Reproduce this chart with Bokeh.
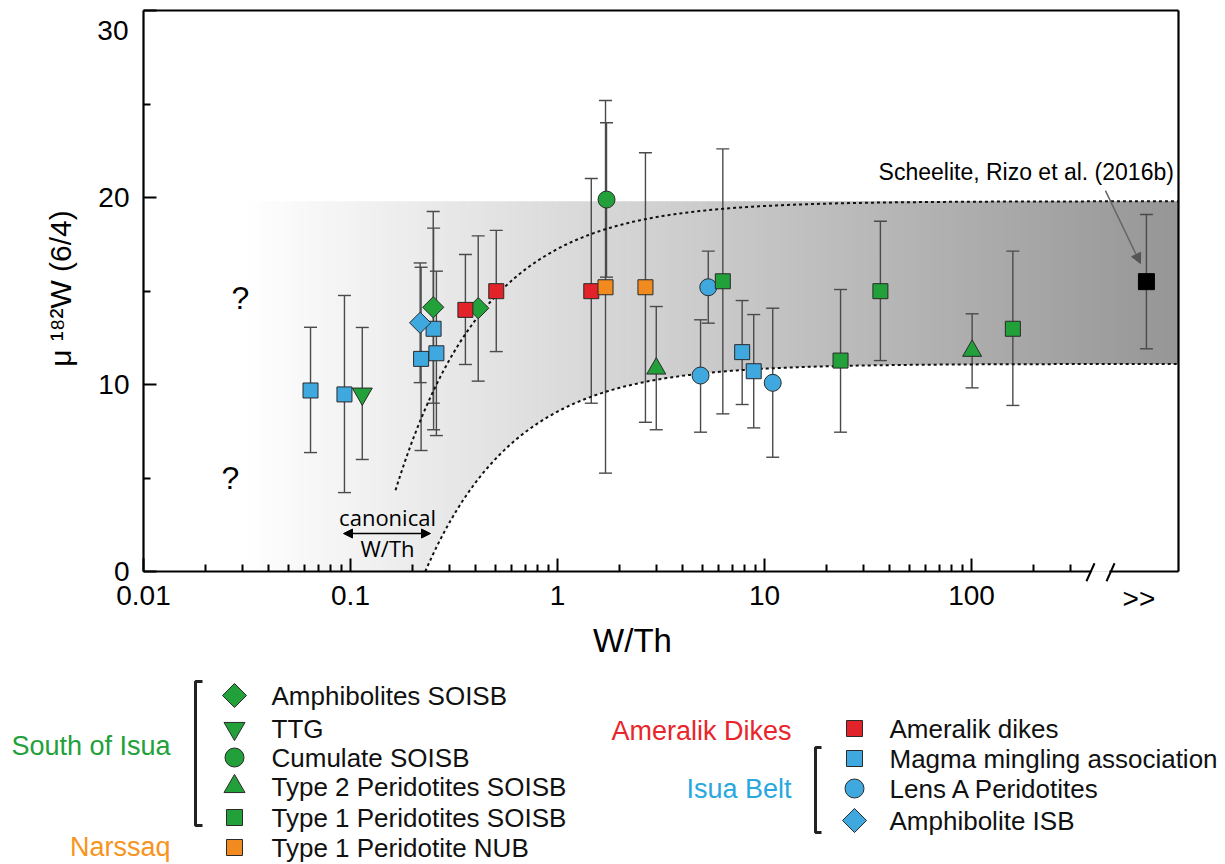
import numpy as np
from bokeh.plotting import figure
from bokeh.models import (ColumnDataSource, Whisker, TeeHead, Range1d, FixedTicker,
                          Arrow, NormalHead, LinearScale)
from bokeh.core.properties import value
from bokeh.embed import file_html
from bokeh.resources import INLINE

FONT = "Liberation Sans"

# ---------------- data ----------------
# South of Isua
amph_soisb_x = [0.251, 0.414]
amph_soisb_y = [14.13, 14.08]
amph_soisb_lo = [9.0, 10.18]
amph_soisb_hi = [19.25, 17.95]

ttg_x = [0.114]
ttg_y = [9.5]
ttg_lo = [5.99]
ttg_hi = [13.05]

cumulate_x = [1.725]
cumulate_y = [19.89]
cumulate_lo = [15.74]
cumulate_hi = [24.0]

type2_soisb_x = [3.0, 100.7]
type2_soisb_y = [10.85, 11.8]
type2_soisb_lo = [7.58, 9.82]
type2_soisb_hi = [14.17, 13.78]

type1_soisb_x = [6.29, 23.3, 36.3, 158.4]
type1_soisb_y = [15.52, 11.28, 14.99, 12.98]
type1_soisb_lo = [8.43, 7.45, 11.28, 8.88]
type1_soisb_hi = [22.6, 15.08, 18.73, 17.13]

# Narssaq
type1_nub_x = [1.706, 2.66]
type1_nub_y = [15.2, 15.2]
type1_nub_lo = [5.26, 7.98]
type1_nub_hi = [25.19, 22.39]

# Ameralik dikes
ameralik_x = [0.359, 0.506, 1.456]
ameralik_y = [13.99, 14.99, 14.99]
ameralik_lo = [11.07, 11.76, 9.0]
ameralik_hi = [16.95, 18.24, 21.02]

# Isua belt
magma_x = [0.0641, 0.0935, 0.2193, 0.252, 0.260, 7.8, 8.87]
magma_y = [9.68, 9.47, 11.37, 12.98, 11.67, 11.73, 10.71]
magma_lo = [6.36, 4.22, 6.47, 7.58, 7.27, 8.93, 7.68]
magma_hi = [13.06, 14.76, 16.27, 18.36, 16.06, 14.49, 13.74]

lensa_x = [4.91, 5.35, 10.96]
lensa_y = [10.48, 15.2, 10.09]
lensa_lo = [7.45, 13.28, 6.11]
lensa_hi = [13.46, 17.13, 14.08]

amph_isb_x = [0.217]
amph_isb_y = [13.3]
amph_isb_lo = [10.1]
amph_isb_hi = [16.5]

# Scheelite (beyond the axis break, plotted at ">>")
scheelite_x = [700.0]
scheelite_y = [15.5]
scheelite_lo = [11.91]
scheelite_hi = [19.09]

# axes
x_major_ticks = [0.01, 0.1, 1, 10, 100]
x_major_labels = ["0.01", "0.1", "1", "10", "100"]
x_minor_ticks = ([m * 0.01 for m in range(2, 10)] + [m * 0.1 for m in range(2, 10)] +
                 [float(m) for m in range(2, 10)] + [m * 10.0 for m in range(2, 10)] +
                 [200.0, 300.0])
y_major_ticks = [0, 10, 20, 30]
y_minor_ticks = [5, 15, 25]
XMIN, XMAX, YMIN, YMAX = 0.01, 1000.0, 0.0, 30.0
BREAK_LO, BREAK_HI = 380.0, 464.0
FAR_X = 644.0  # position of the ">>" label

# model (mixing) curves: y = A - B / x
CURVE_B = 2.55
UP_A = 19.8
LOW_A = 11.1
UP_START = 0.165
SHADE_TOP = 19.8
SHADE_START_LOG = -1.5

GREEN = "#22a03a"
BLUE = "#3fa8de"
RED = "#e2232a"
ORANGE = "#f18a1f"
EDGE = "#2a2a2a"

# ---------------- page geometry ----------------
W, H = 1225, 864
X_ORIGIN_PX, PX_PER_DECADE = 143.0, 207.0   # x = 0.01 at 143 px
Y_ORIGIN_PX, PX_PER_UNIT = 571.0, 18.7      # y = 0 at 571 px
xl0 = np.log10(XMIN) - X_ORIGIN_PX / PX_PER_DECADE
xl1 = np.log10(XMIN) + (W - X_ORIGIN_PX) / PX_PER_DECADE
y0 = -(H - Y_ORIGIN_PX) / PX_PER_UNIT
y1 = Y_ORIGIN_PX / PX_PER_UNIT

p = figure(width=W, height=H, x_axis_type="log",
           x_range=Range1d(10 ** xl0, 10 ** xl1), y_range=Range1d(y0, y1),
           min_border=0, title=None, output_backend="svg", toolbar_location=None)
p.extra_x_ranges = {"px": Range1d(0, W)}
p.extra_x_scales = {"px": LinearScale()}
p.extra_y_ranges = {"px": Range1d(H, 0)}
p.outline_line_color = None
p.xgrid.visible = False
p.ygrid.visible = False

# gradient shading
edges = np.linspace(SHADE_START_LOG, np.log10(XMAX), 181)
mid = 0.5 * (edges[:-1] + edges[1:])
gv = np.clip(255 - (mid - SHADE_START_LOG) * 23.3, 0, 255).astype(int)
shade_cols = ["#%02x%02x%02x" % (v, v, v) for v in gv]
rights = 10 ** (edges[1:] + 0.004)
rights[-1] = XMAX
p.quad(left=10 ** edges[:-1], right=rights, bottom=YMIN, top=SHADE_TOP,
       fill_color=shade_cols, line_color=None, level="image")

# white region below the lower curve
x0_low = CURVE_B / LOW_A
xc = np.logspace(np.log10(x0_low), np.log10(XMAX) + 0.01, 300)
yc = LOW_A - CURVE_B / xc
p.patch(np.r_[xc, xc[::-1]], np.r_[yc, np.full_like(xc, YMIN)],
        fill_color="white", line_color=None, level="image")

# error bars
all_x = (amph_soisb_x + ttg_x + cumulate_x + type2_soisb_x + type1_soisb_x + type1_nub_x +
         ameralik_x + magma_x + lensa_x + amph_isb_x + scheelite_x)
all_lo = (amph_soisb_lo + ttg_lo + cumulate_lo + type2_soisb_lo + type1_soisb_lo + type1_nub_lo +
          ameralik_lo + magma_lo + lensa_lo + amph_isb_lo + scheelite_lo)
all_hi = (amph_soisb_hi + ttg_hi + cumulate_hi + type2_soisb_hi + type1_soisb_hi + type1_nub_hi +
          ameralik_hi + magma_hi + lensa_hi + amph_isb_hi + scheelite_hi)
err_src = ColumnDataSource(dict(x=all_x, lo=all_lo, hi=all_hi))
EC = "#4a4a4a"
p.add_layout(Whisker(source=err_src, base="x", lower="lo", upper="hi", dimension="height",
                     line_color=EC, line_width=1.4,
                     upper_head=TeeHead(size=13, line_color=EC, line_width=1.4),
                     lower_head=TeeHead(size=13, line_color=EC, line_width=1.4)))

# dotted model curves
xu = np.logspace(np.log10(UP_START), np.log10(XMAX), 400)
p.line(xu, UP_A - CURVE_B / xu, line_color="#111111", line_width=2, line_dash="3 3")
xl = np.logspace(np.log10(x0_low), np.log10(XMAX), 400)
p.line(xl, LOW_A - CURVE_B / xl, line_color="#111111", line_width=2, line_dash="3 3")

# frame box with a break in the bottom axis
p.segment(x0=[XMIN, XMIN, XMAX, XMIN, BREAK_HI], y0=[YMIN, YMAX, YMIN, YMIN, YMIN],
          x1=[XMIN, XMAX, XMAX, BREAK_LO, XMAX], y1=[YMAX, YMAX, YMAX, YMIN, YMIN],
          line_color="black", line_width=2.2)
p.segment(x0=[359.0, 449.0], y0=[YMIN - 0.52, YMIN - 0.52], x1=[393.0, 491.0],
          y1=[YMIN + 0.44, YMIN + 0.44], line_color="black", line_width=2)

# markers
def pts(xs, ys, marker, color, size, angle=0.0):
    p.scatter(xs, ys, marker=marker, size=size, angle=angle, fill_color=color,
              line_color=EDGE, line_width=1)

pts(magma_x, magma_y, "square", BLUE, 15)
pts(amph_isb_x, amph_isb_y, "square", BLUE, 15, np.pi / 4)
pts(ttg_x, ttg_y, "inverted_triangle", GREEN, 20)
pts(amph_soisb_x, amph_soisb_y, "square", GREEN, 15, np.pi / 4)
pts(ameralik_x, ameralik_y, "square", RED, 15)
pts(cumulate_x, cumulate_y, "circle", GREEN, 17)
pts(type1_nub_x, type1_nub_y, "square", ORANGE, 15)
pts(type2_soisb_x, type2_soisb_y, "triangle", GREEN, 19)
pts(lensa_x, lensa_y, "circle", BLUE, 17)
pts(type1_soisb_x, type1_soisb_y, "square", GREEN, 15)
p.scatter(scheelite_x, scheelite_y, marker="square", size=16, fill_color="black", line_color="black")

# annotations inside the plot
p.text(x=[0.0294, 0.0263], y=[14.65, 5.0], text=["?", "?"], text_font=value(FONT),
       text_font_size="32px", text_align="center", text_baseline="middle", text_color="black")
p.text(x=[0.151, 0.151], y=[2.89, 1.23], text=["canonical", "W/Th"], text_font=value("Open Sans"),
       text_font_size="22px", text_align="center", text_baseline="middle", text_color="black")
p.add_layout(Arrow(x_start=0.0925, y_start=2.03, x_end=0.2435, y_end=2.03,
                   start=NormalHead(size=9, fill_color="black", line_color="black"),
                   end=NormalHead(size=9, fill_color="black", line_color="black"),
                   line_color="black", line_width=1.5))
p.text(x=[950.0], y=[21.34], text=["Scheelite, Rizo et al. (2016b)"], text_font=value(FONT),
       text_font_size="23px", text_align="right", text_baseline="middle", text_color="black")
p.add_layout(Arrow(x_start=443.6, y_start=20.37, x_end=655.0, y_end=16.47,
                   end=NormalHead(size=10, fill_color="#555555", line_color="#555555"),
                   line_color="#666666", line_width=1.5))
p.text(x=[FAR_X], y=[YMIN - 1.44], text=[">>"], text_font=value(FONT), text_font_size="28px",
       text_align="center", text_baseline="middle", text_color="black")

# axes (ticks point inward, drawn at the box edges)
p.xaxis.ticker = FixedTicker(ticks=x_major_ticks, minor_ticks=x_minor_ticks)
p.xaxis.major_label_overrides = {t: l for t, l in zip(x_major_ticks, x_major_labels)}
p.yaxis.ticker = FixedTicker(ticks=y_major_ticks, minor_ticks=y_minor_ticks)
p.yaxis.major_label_overrides = {30: " "}
p.xaxis.fixed_location = YMIN
p.yaxis.fixed_location = XMIN
for ax in (p.xaxis[0], p.yaxis[0]):
    ax.axis_line_color = None
    ax.major_tick_in = 13
    ax.major_tick_out = 0
    ax.minor_tick_in = 7
    ax.minor_tick_out = 0
    ax.major_tick_line_color = "black"
    ax.minor_tick_line_color = "black"
    ax.major_tick_line_width = 2
    ax.minor_tick_line_width = 2
    ax.major_label_text_font = FONT
    ax.major_label_text_font_size = "28px"
    ax.major_label_text_color = "black"
    ax.major_label_standoff = 14

# top y tick label (sits just below the top edge, as in the reference)
p.text(x=[128], y=[30], text=["30"], x_range_name="px", y_range_name="px",
       text_font=value(FONT), text_font_size="28px", text_align="right",
       text_baseline="middle", text_color="black")

# axis titles
p.text(x=[632], y=[640], text=["W/Th"], x_range_name="px", y_range_name="px",
       text_font=value(FONT), text_font_size="33px", text_align="center",
       text_baseline="middle", text_color="black")
p.text(x=[60], y=[288], text=["μ ¹⁸²W (6/4)"], x_range_name="px", y_range_name="px",
       angle=np.pi / 2, text_font=value(FONT), text_font_size="30px", text_align="center",
       text_baseline="middle", text_color="black")

# ---------------- legend (page pixel coordinates) ----------------
group_names = ["South of Isua", "Narssaq", "Ameralik Dikes", "Isua Belt"]
group_colors = [GREEN, "#f7941d", "#e8262b", "#29a8e0"]
group_x = [170, 170, 791, 791]
group_y = [745, 846, 730, 788]

leg_labels_1 = ["Amphibolites SOISB", "TTG", "Cumulate SOISB", "Type 2 Peridotites SOISB",
                "Type 1 Peridotites SOISB", "Type 1 Peridotite NUB"]
leg_markers_1 = ["square", "inverted_triangle", "circle", "triangle", "square", "square"]
leg_colors_1 = [GREEN, GREEN, GREEN, GREEN, GREEN, ORANGE]
leg_y_1 = [695, 728, 757, 786, 817, 847]
leg_labels_2 = ["Ameralik dikes", "Magma mingling association", "Lens A Peridotites", "Amphibolite ISB"]
leg_markers_2 = ["square", "square", "circle", "square"]
leg_colors_2 = [RED, BLUE, BLUE, BLUE]
leg_y_2 = [728, 758, 788, 820]

p.text(x=group_x, y=group_y, text=group_names, text_color=group_colors, text_font=value(FONT),
       text_font_size="27px", text_align="right", text_baseline="middle",
       x_range_name="px", y_range_name="px")

def leg_col(mx, tx, labels, markers, colors, ys):
    sizes = {"square": 16, "inverted_triangle": 21, "circle": 19, "triangle": 21}
    for lab, mk, c, yy in zip(labels, markers, colors, ys):
        ang = np.pi / 4 if "Amphibolite" in lab else 0.0
        sz = 17 if ang else sizes[mk]
        p.scatter([mx], [yy], marker=mk, size=sz, angle=ang, fill_color=c,
                  line_color=EDGE, line_width=1, x_range_name="px", y_range_name="px")
    p.text(x=[tx] * len(labels), y=ys, text=labels, text_font=value(FONT), text_font_size="26px",
           text_align="left", text_baseline="middle", text_color="#111111",
           x_range_name="px", y_range_name="px")

leg_col(234, 271, leg_labels_1, leg_markers_1, leg_colors_1, leg_y_1)
leg_col(854, 889, leg_labels_2, leg_markers_2, leg_colors_2, leg_y_2)

# brackets
p.line([202, 195, 195, 202], [681, 681, 825, 825], line_color="#222222", line_width=3,
       x_range_name="px", y_range_name="px")
p.line([821, 815, 815, 821], [747, 747, 832, 832], line_color="#222222", line_width=3,
       x_range_name="px", y_range_name="px")

open("out.html", "w").write(file_html(p, INLINE))
